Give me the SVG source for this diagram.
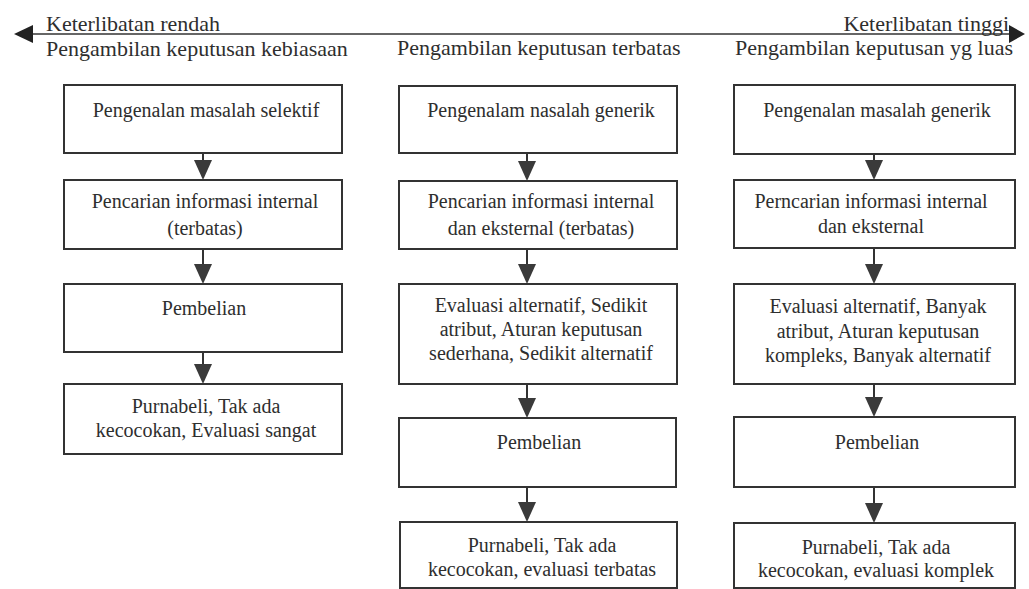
<svg xmlns="http://www.w3.org/2000/svg" width="1029" height="589" viewBox="0 0 1029 589">
<style>
.h{font-size:22px}
.t{font-size:20px;text-anchor:middle}
.box{fill:#fff;stroke:#333;stroke-width:2}
.stem{stroke:#333;stroke-width:2}
.tri{fill:#3a3a3a}
</style>
<rect width="1029" height="589" fill="#fff"/>
<g font-family="'Liberation Serif', serif" fill="#2e2e2e">
<g id="axis">
<line x1="28" y1="34" x2="1012" y2="34" stroke="#333" stroke-width="1.6"/>
<polygon points="14,34 33,25 33,43" fill="#222"/>
<polygon points="1025,34 1009,25 1009,43" fill="#222"/>
<text class="h" x="46" y="31">Keterlibatan rendah</text>
<text class="h" x="1009" y="31" text-anchor="end">Keterlibatan tinggi</text>
</g>
<g id="headers">
<text class="h" x="46" y="56">Pengambilan keputusan kebiasaan</text>
<text class="h" x="397" y="55">Pengambilan keputusan terbatas</text>
<text class="h" x="735" y="55">Pengambilan keputusan yg luas</text>
</g>
<g id="connectors">
<line class="stem" x1="203" y1="153" x2="203" y2="166"/><polygon class="tri" points="194,160 212,160 203,180"/>
<line class="stem" x1="203" y1="249" x2="203" y2="270"/><polygon class="tri" points="194,264 212,264 203,284"/>
<line class="stem" x1="203" y1="352" x2="203" y2="370"/><polygon class="tri" points="194,364 212,364 203,384"/>
<line class="stem" x1="527" y1="153" x2="527" y2="167"/><polygon class="tri" points="518,161 536,161 527,181"/>
<line class="stem" x1="527" y1="249" x2="527" y2="270"/><polygon class="tri" points="518,264 536,264 527,284"/>
<line class="stem" x1="527" y1="384" x2="527" y2="404"/><polygon class="tri" points="518,398 536,398 527,418"/>
<line class="stem" x1="527" y1="487" x2="527" y2="508"/><polygon class="tri" points="518,502 536,502 527,522"/>
<line class="stem" x1="874" y1="154" x2="874" y2="166"/><polygon class="tri" points="865,160 883,160 874,180"/>
<line class="stem" x1="874" y1="248" x2="874" y2="270"/><polygon class="tri" points="865,264 883,264 874,284"/>
<line class="stem" x1="874" y1="384" x2="874" y2="403"/><polygon class="tri" points="865,397 883,397 874,417"/>
<line class="stem" x1="874" y1="487" x2="874" y2="509"/><polygon class="tri" points="865,503 883,503 874,523"/>
</g>
<g id="l1"><rect class="box" x="64" y="85" width="278" height="68"/><text class="t" x="206" y="117">Pengenalan masalah selektif</text></g>
<g id="l2"><rect class="box" x="64" y="180" width="278" height="69"/><text class="t" x="205" y="208">Pencarian informasi internal</text><text class="t" x="205" y="235">(terbatas)</text></g>
<g id="l3"><rect class="box" x="64" y="284" width="278" height="68"/><text class="t" x="204" y="315">Pembelian</text></g>
<g id="l4"><rect class="box" x="64" y="384" width="278" height="70"/><text class="t" x="206" y="413">Purnabeli, Tak ada</text><text class="t" x="206" y="437">kecocokan, Evaluasi sangat</text></g>
<g id="m1"><rect class="box" x="399" y="86" width="278" height="67"/><text class="t" x="541" y="117">Pengenalam nasalah generik</text></g>
<g id="m2"><rect class="box" x="399" y="181" width="278" height="68"/><text class="t" x="541" y="208">Pencarian informasi internal</text><text class="t" x="541" y="235">dan eksternal (terbatas)</text></g>
<g id="m3"><rect class="box" x="399" y="284" width="278" height="100"/><text class="t" x="541" y="312">Evaluasi alternatif, Sedikit</text><text class="t" x="541" y="336">atribut, Aturan keputusan</text><text class="t" x="541" y="360">sederhana, Sedikit alternatif</text></g>
<g id="m4"><rect class="box" x="399" y="418" width="277" height="69"/><text class="t" x="539" y="449">Pembelian</text></g>
<g id="m5"><rect class="box" x="400" y="522" width="277" height="66"/><text class="t" x="542" y="552">Purnabeli, Tak ada</text><text class="t" x="542" y="576">kecocokan, evaluasi terbatas</text></g>
<g id="r1"><rect class="box" x="734" y="85" width="281" height="69"/><text class="t" x="877" y="117">Pengenalan masalah generik</text></g>
<g id="r2"><rect class="box" x="734" y="180" width="281" height="68"/><text class="t" x="871" y="208">Perncarian informasi internal</text><text class="t" x="871" y="233">dan eksternal</text></g>
<g id="r3"><rect class="box" x="734" y="284" width="281" height="100"/><text class="t" x="878" y="313">Evaluasi alternatif, Banyak</text><text class="t" x="878" y="338">atribut, Aturan keputusan</text><text class="t" x="878" y="362">kompleks, Banyak alternatif</text></g>
<g id="r4"><rect class="box" x="734" y="417" width="281" height="70"/><text class="t" x="877" y="449">Pembelian</text></g>
<g id="r5"><rect class="box" x="734" y="523" width="281" height="65"/><text class="t" x="876" y="554">Purnabeli, Tak ada</text><text class="t" x="876" y="577">kecocokan, evaluasi komplek</text></g>
</g>
</svg>
